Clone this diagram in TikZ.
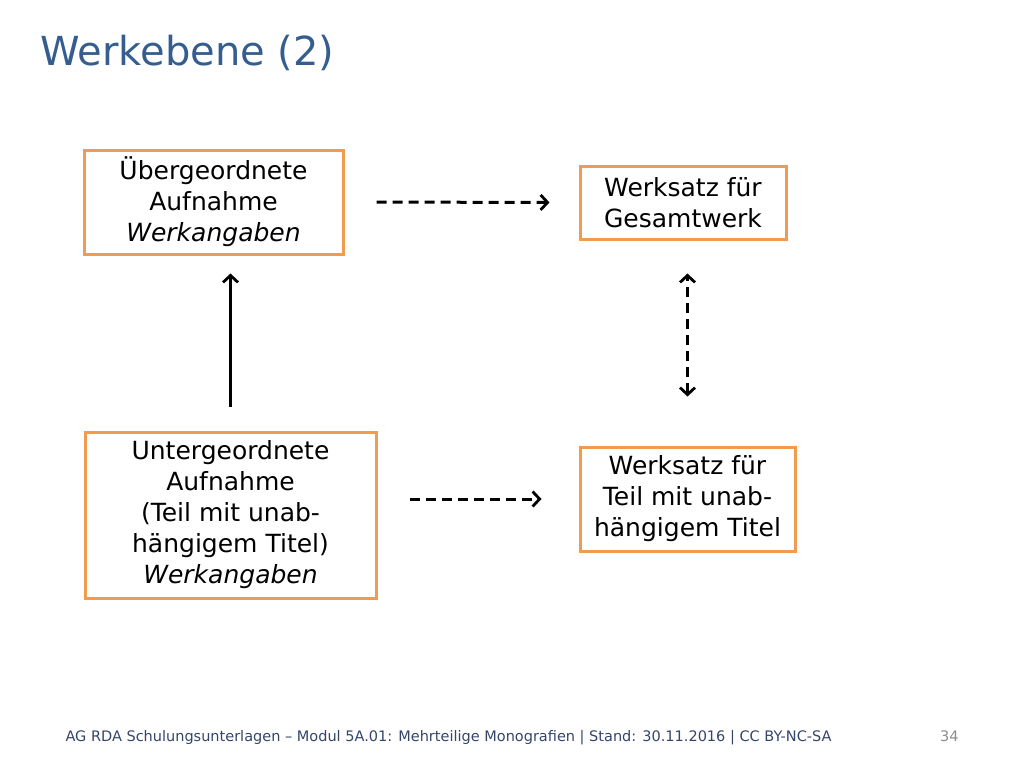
\documentclass[tikz,border=0pt]{standalone}
\usepackage{fontspec}
\setmainfont{DejaVu Sans}
\usetikzlibrary{positioning}
\usetikzlibrary{arrows.meta}
\definecolor{titleblue}{HTML}{355E8E}
\definecolor{boxorange}{HTML}{F09B4F}
\definecolor{footblue}{HTML}{34456A}
\definecolor{pagegrey}{HTML}{8C8C8C}
\tikzset{
  werkbox/.style={draw=boxorange,line width=3pt,align=center,inner sep=0pt,
    font=\fontsize{25}{31}\selectfont},
  spitze/.tip={Straight Barb[length=7pt,width=15pt,line width=2.8pt]},
  pfeil/.style={line width=3pt,-spitze},
  gestrichelt/.style={pfeil,dash pattern=on 10pt off 6pt}
}

\begin{document}
\begin{tikzpicture}[x=1pt,y=-1pt]
\useasboundingbox (0,0) rectangle (1024,768);
\node [anchor=base west,text=titleblue,font=\fontsize{40}{48}\selectfont] (titel) at (37,66) {Werkebene (2)};
\node [werkbox,minimum width=259pt,minimum height=104pt] (ueber) at (213.5,202) {Übergeordnete\\Aufnahme\\\textit{Werkangaben}};
\node [werkbox,minimum width=206pt,minimum height=73pt] (gesamt) at (683,202.5) {Werksatz für\\Gesamtwerk};
\node [werkbox,minimum width=291pt,minimum height=166pt] (unter) at (230.5,515) {Untergeordnete\\Aufnahme\\(Teil mit unab-\\hängigem Titel)\\\textit{Werkangaben}};
\node [werkbox,minimum width=215pt,minimum height=104pt] (teil) at (687.5,499) {Werksatz für\\Teil mit unab-\\hängigem Titel};
\draw [gestrichelt,shorten <=32pt,shorten >=29pt] (ueber.east) -- (gesamt.west);
\draw [pfeil,shorten <=24pt,shorten >=18pt] (unter.north) -- (unter.north |- ueber.south);
\draw [gestrichelt,spitze-spitze,shorten <=49pt,shorten >=33pt] (teil.north) -- (teil.north |- gesamt.south);
\draw [gestrichelt,shorten <=32pt,shorten >=37pt] (unter.east |- teil.west) -- (teil.west);
\node [anchor=base west,text=footblue,font=\fontsize{14.5}{16}\selectfont] (fuss) at (62,741) {AG RDA Schulungsunterlagen – Modul 5A.01: Mehrteilige Monografien | Stand: 30.11.2016 | CC BY-NC-SA};
\node [anchor=base east,text=pagegrey,font=\fontsize{14.5}{16}\selectfont] (seite) at (962,741) {34};
\end{tikzpicture}
\end{document}
